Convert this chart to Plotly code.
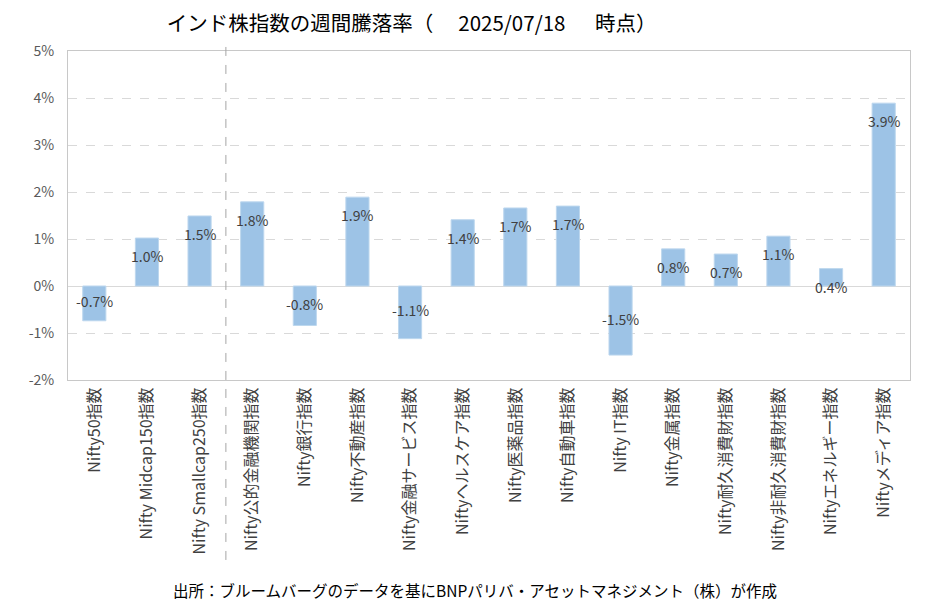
import plotly.graph_objs as go

# Weekly returns of Indian equity indices (%), as of 2025/07/18
categories = [
    "Nifty50指数", "Nifty Midcap150指数", "Nifty Smallcap250指数",
    "Nifty公的金融機関指数", "Nifty銀行指数", "Nifty不動産指数",
    "Nifty金融サービス指数", "Niftyヘルスケア指数", "Nifty医薬品指数",
    "Nifty自動車指数", "Nifty IT指数", "Nifty金属指数",
    "Nifty耐久消費財指数", "Nifty非耐久消費財指数", "Niftyエネルギー指数",
    "Niftyメディア指数",
]
weekly_return = [
    -0.74, 1.02, 1.49,
    1.79, -0.84, 1.89,
    -1.12, 1.41, 1.66,
    1.70, -1.47, 0.79,
    0.68, 1.06, 0.37,
    3.89,
]
y_ticks = [-2, -1, 0, 1, 2, 3, 4, 5]

font_jp = "Noto Sans CJK JP"

fig = go.Figure()
fig.add_trace(go.Bar(
    x=categories,
    y=weekly_return,
    marker=dict(color="#9DC3E6", line=dict(color="#BDD7EE", width=1)),
    width=0.44,
    hoverinfo="skip",
))

# data labels (Excel "inside end" look)
annotations = []
for cat, v in zip(categories, weekly_return):
    if v >= 0:
        annotations.append(dict(x=cat, y=v, yanchor="middle", yshift=-18,
                                text=f"{v:.1f}%", showarrow=False))
    else:
        annotations.append(dict(x=cat, y=v / 2, yanchor="middle", yshift=2,
                                text=f"{v:.1f}%", showarrow=False))
for a in annotations:
    a["font"] = dict(family=font_jp, size=14, color="#404040")

# footer
annotations.append(dict(
    text="出所：ブルームバーグのデータを基にBNPパリバ・アセットマネジメント（株）が作成",
    xref="paper", yref="paper", x=0.483, y=-0.638, xanchor="center", yanchor="middle",
    showarrow=False, font=dict(family=font_jp, size=15.5, color="#000000"),
))

fig.update_layout(
    title=dict(
        text="インド株指数の週間騰落率（　 2025/07/18　  時点）",
        x=0.435, xanchor="center", y=0.974, yanchor="middle",
        font=dict(family=font_jp, size=20.5, color="#000000"),
    ),
    width=928, height=611,
    margin=dict(l=60, r=26, t=43, b=239),
    paper_bgcolor="white", plot_bgcolor="white",
    showlegend=False,
    annotations=annotations,
    shapes=[dict(
        type="line", xref="x", yref="paper", x0=2.5, x1=2.5, y0=-0.547, y1=1.033,
        line=dict(color="#A6A6A6", width=1, dash="dash"),
    )],
    font=dict(family=font_jp, color="#404040"),
)

fig.update_xaxes(
    tickangle=-90,
    tickfont=dict(family=font_jp, size=16, color="#404040"),
    showline=True, linecolor="#C8C8C8", linewidth=1, mirror=True,
    showgrid=False, ticks="",
)
fig.update_yaxes(
    range=[-2, 5], tickvals=y_ticks, ticktext=[f"{t}%" for t in y_ticks],
    tickfont=dict(family=font_jp, size=14, color="#595959"),
    ticklabelstandoff=10,
    showline=True, linecolor="#C8C8C8", linewidth=1, mirror=True,
    showgrid=True, gridcolor="#D9D9D9", griddash="dash", gridwidth=1,
    zeroline=True, zerolinecolor="#D9D9D9", zerolinewidth=1,
    ticks="",
)

fig.write_html("out.html")
